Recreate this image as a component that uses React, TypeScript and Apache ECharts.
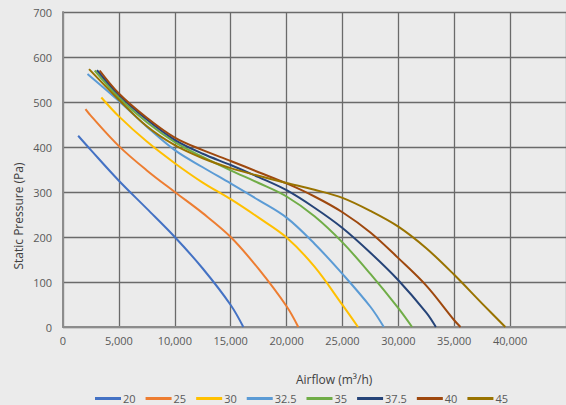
import React, { useEffect, useRef } from "react";
import * as echarts from "echarts";

const seriesNames = ["20", "25", "30", "32.5", "35", "37.5", "40", "45"];
const seriesColors = ["#4472C4", "#ED7D31", "#FFC000", "#5B9BD5", "#70AD47", "#264478", "#9E480E", "#997300"];

const s20: [number, number][] = [[1357, 425], [2500, 393], [5000, 325], [7500, 263], [10000, 200], [12500, 130], [15000, 49], [16135, 0]];
const s25: [number, number][] = [[2011, 484], [2500, 469], [5000, 402], [7500, 348], [10000, 300], [12500, 253], [15000, 200], [17500, 129], [20000, 46], [21050, 0]];
const s30: [number, number][] = [[3430, 510], [5000, 468], [7500, 412], [10000, 364], [12500, 321], [15000, 284], [17500, 243], [20000, 199], [22500, 134], [25000, 49], [26390, 0]];
const s325: [number, number][] = [[2190, 562], [5000, 502], [7500, 445], [10000, 393], [12500, 355], [15000, 319], [17500, 282], [20000, 243], [22500, 185], [25000, 118], [27500, 45], [28700, 0]];
const s35: [number, number][] = [[2837, 570], [5000, 510], [7500, 455], [10000, 411], [12500, 378], [15000, 348], [17500, 320], [20000, 290], [22500, 246], [25000, 188], [27500, 118], [30000, 42], [31230, 0]];
const s375: [number, number][] = [[3040, 571], [5000, 516], [7500, 461], [10000, 416], [12500, 385], [15000, 360], [17500, 333], [20000, 304], [22500, 265], [25000, 220], [27500, 165], [30000, 104], [32500, 32], [33360, 0]];
const s40: [number, number][] = [[3280, 570], [5000, 519], [7500, 465], [10000, 421], [12500, 393], [15000, 369], [17500, 344], [20000, 319], [22500, 290], [25000, 255], [27500, 210], [30000, 153], [32500, 92], [35000, 15], [35560, 0]];
const s45: [number, number][] = [[2330, 573], [5000, 505], [7500, 446], [10000, 404], [12500, 375], [15000, 353], [17500, 336], [20000, 320], [22500, 305], [25000, 287], [27500, 258], [30000, 223], [32500, 175], [35000, 116], [37500, 52], [39570, 0]];

const seriesData = [s20, s25, s30, s325, s35, s375, s40, s45];

const xTitle = "Airflow (m³/h)";
const yTitle = "Static Pressure (Pa)";

export default function App() {
  const ref = useRef<HTMLDivElement>(null);
  useEffect(() => {
    if (!ref.current) return;
    const chart = echarts.init(ref.current, undefined, { renderer: "svg" });
    const font = "'Open Sans', sans-serif";
    chart.setOption({
      animation: false,
      backgroundColor: "#EBEBEB",
      textStyle: { fontFamily: font },
      grid: { left: 63, top: 12, right: -5, bottom: 78 },
      xAxis: {
        type: "value",
        min: 0,
        max: 45000,
        interval: 5000,
        axisLine: { show: true, lineStyle: { color: "#8c8c8c", width: 2 } },
        axisTick: { show: false },
        splitLine: { show: true, lineStyle: { color: "#6a6a6a", width: 1.3 } },
        axisLabel: {
          color: "#595959",
          fontSize: 11,
          fontFamily: font,
          margin: 8,
          showMaxLabel: false,
          formatter: (v: number) => v.toLocaleString("en-US"),
        },
      },
      yAxis: {
        type: "value",
        min: 0,
        max: 700,
        interval: 100,
        axisLine: { show: true, lineStyle: { color: "#8c8c8c", width: 2 } },
        axisTick: { show: false },
        splitLine: { show: true, lineStyle: { color: "#6a6a6a", width: 1.3 } },
        axisLabel: { color: "#595959", fontSize: 11, fontFamily: font, margin: 11 },
      },
      legend: {
        left: 90,
        top: 388,
        icon: "rect",
        itemWidth: 26,
        itemHeight: 3,
        itemGap: 10,
        textStyle: { color: "#595959", fontSize: 11, fontFamily: font, padding: [0, 0, 0, -3] },
        data: seriesNames,
      },
      graphic: [
        {
          type: "text",
          left: 296,
          top: 373,
          style: { text: xTitle, fill: "#404040", font: `12px ${font}` },
        },
        {
          type: "text",
          x: 18,
          y: 216,
          rotation: Math.PI / 2,
          style: { text: yTitle, fill: "#404040", font: `12px ${font}`, align: "center", verticalAlign: "middle" },
        },
      ],
      series: seriesNames.map((n, i) => ({
        name: n,
        type: "line",
        data: seriesData[i],
        smooth: 0.35,
        showSymbol: false,
        symbol: "none",
        color: seriesColors[i],
        lineStyle: { color: seriesColors[i], width: 2 },
      })),
    });
    return () => chart.dispose();
  }, []);
  return <div ref={ref} style={{ width: 566, height: 405, position: "absolute", left: 0, top: 0 }} />;
}
